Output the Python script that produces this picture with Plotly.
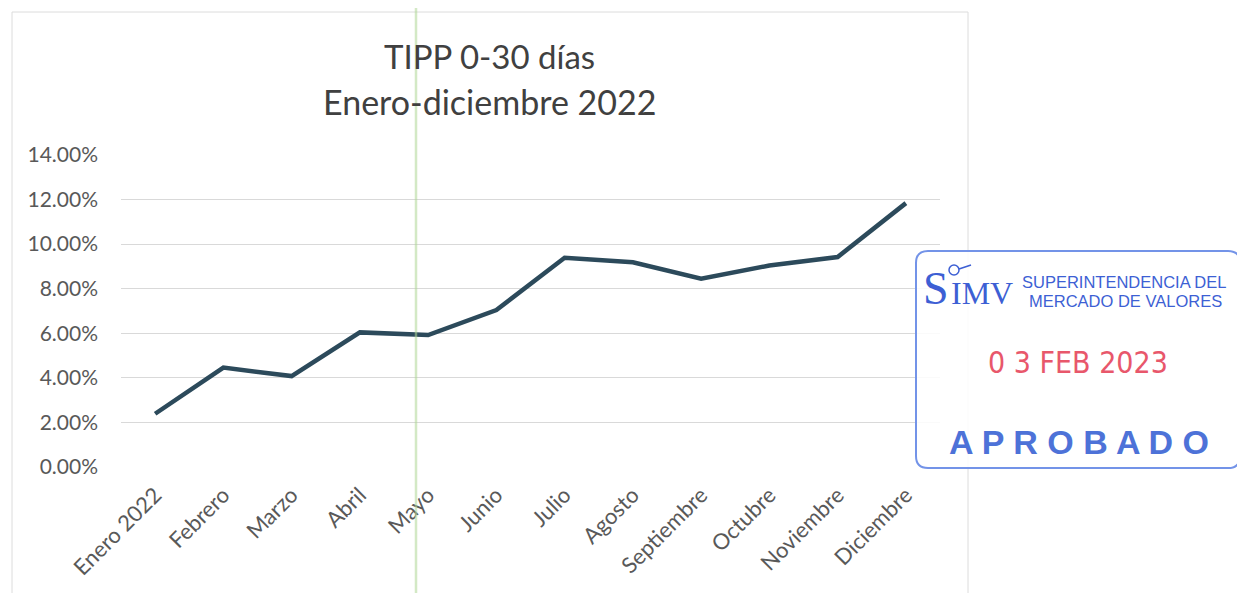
import plotly.graph_objects as go

months = ["Enero 2022", "Febrero", "Marzo", "Abril", "Mayo", "Junio", "Julio",
          "Agosto", "Septiembre", "Octubre", "Noviembre", "Diciembre"]
tipp = [0.0239, 0.0446, 0.0408, 0.0604, 0.0592, 0.0704, 0.0939,
        0.0919, 0.0845, 0.0904, 0.0942, 0.1184]
y_ticks = [0, 0.02, 0.04, 0.06, 0.08, 0.10, 0.12, 0.14]

W, H = 1245, 593
OFF = 8  # page body margin
L, R, T, B = 121, 940, 155, 467


def px(x):
    return (x - L) / (R - L)


def py(y):
    return (B - y) / (B - T)


fig = go.Figure()
fig.add_trace(go.Scatter(
    x=months, y=tipp, mode="lines",
    line=dict(color="#2c4a5b", width=4.5),
    showlegend=False, hoverinfo="x+y",
))

shapes = []
shapes.append(dict(type="rect", xref="paper", yref="paper",
                   x0=px(12), x1=px(968), y0=py(620), y1=py(12),
                   line=dict(color="#dcdcdc", width=1), fillcolor="rgba(0,0,0,0)", layer="below"))
shapes.append(dict(type="line", xref="paper", yref="paper",
                   x0=px(416), x1=px(416), y0=py(620), y1=py(-10),
                   line=dict(color="rgba(175,215,150,0.55)", width=2.5)))
x0, x1, y0, y1, r = 916, 1240, 251, 468, 12
path = (f"M {px(x0+r)} {py(y0)} L {px(x1-r)} {py(y0)} Q {px(x1)} {py(y0)} {px(x1)} {py(y0+r)} "
        f"L {px(x1)} {py(y1-r)} Q {px(x1)} {py(y1)} {px(x1-r)} {py(y1)} "
        f"L {px(x0+r)} {py(y1)} Q {px(x0)} {py(y1)} {px(x0)} {py(y1-r)} "
        f"L {px(x0)} {py(y0+r)} Q {px(x0)} {py(y0)} {px(x0+r)} {py(y0)} Z")
shapes.append(dict(type="path", xref="paper", yref="paper", path=path,
                   line=dict(color="#7393e8", width=2), fillcolor="rgba(255,255,255,0.85)"))
shapes.append(dict(type="circle", xref="paper", yref="paper",
                   x0=px(949), x1=px(959), y0=py(275), y1=py(265),
                   line=dict(color="#3d5fd4", width=1.5)))
shapes.append(dict(type="line", xref="paper", yref="paper",
                   x0=px(959), x1=px(971), y0=py(269), y1=py(265),
                   line=dict(color="#3d5fd4", width=1.5)))

blue = "#3d5fd4"


def a(text, x, y, family, size, color, weight="normal"):
    return dict(text=text, x=px(x), y=py(y), xref="paper", yref="paper", showarrow=False,
                font=dict(family=family, size=size, color=color, weight=weight),
                xanchor="center", yanchor="middle")


ann = [
    a("TIPP 0-30 días", 489, 56, "Lato, Open Sans", 33, "#404040"),
    a("Enero-diciembre 2022", 489, 102, "Lato, Open Sans", 34, "#404040"),
    a("S", 936, 288, "Liberation Serif", 46, blue),
    a("IMV", 982, 293, "Liberation Serif", 32, blue),
    a("SUPERINTENDENCIA DEL", 1124, 282, "Liberation Sans", 16.5, blue),
    a("MERCADO DE VALORES", 1125, 301, "Liberation Sans", 16.5, blue),
    a("0 3 FEB 2023", 1078, 362, "DejaVu Sans Condensed, Liberation Sans Narrow", 30, "#e8576b"),
    a("A P R O B A D O", 1079, 442, "Liberation Sans", 34, "#4d72d8", "bold"),
]

fig.update_layout(
    width=W, height=H,
    margin=dict(l=L - OFF, r=W - R + OFF, t=T - OFF, b=H - B + OFF),
    paper_bgcolor="white", plot_bgcolor="white",
    shapes=shapes, annotations=ann,
    xaxis=dict(type="category", tickangle=-45, showgrid=False, showline=False,
               ticks="", ticklabelstandoff=10,
               tickfont=dict(family="Lato, Open Sans", size=22, color="#595959"),
               range=[-0.5, 11.5]),
    yaxis=dict(range=[0, 0.14], tickvals=y_ticks, tickformat=".2%", showgrid=True,
               gridcolor="#d9d9d9", gridwidth=1, zeroline=False, showline=False,
               ticks="", ticklen=0, ticklabelstandoff=22,
               tickfont=dict(family="Lato, Open Sans", size=21, color="#595959")),
)

fig.write_html("out.html")
